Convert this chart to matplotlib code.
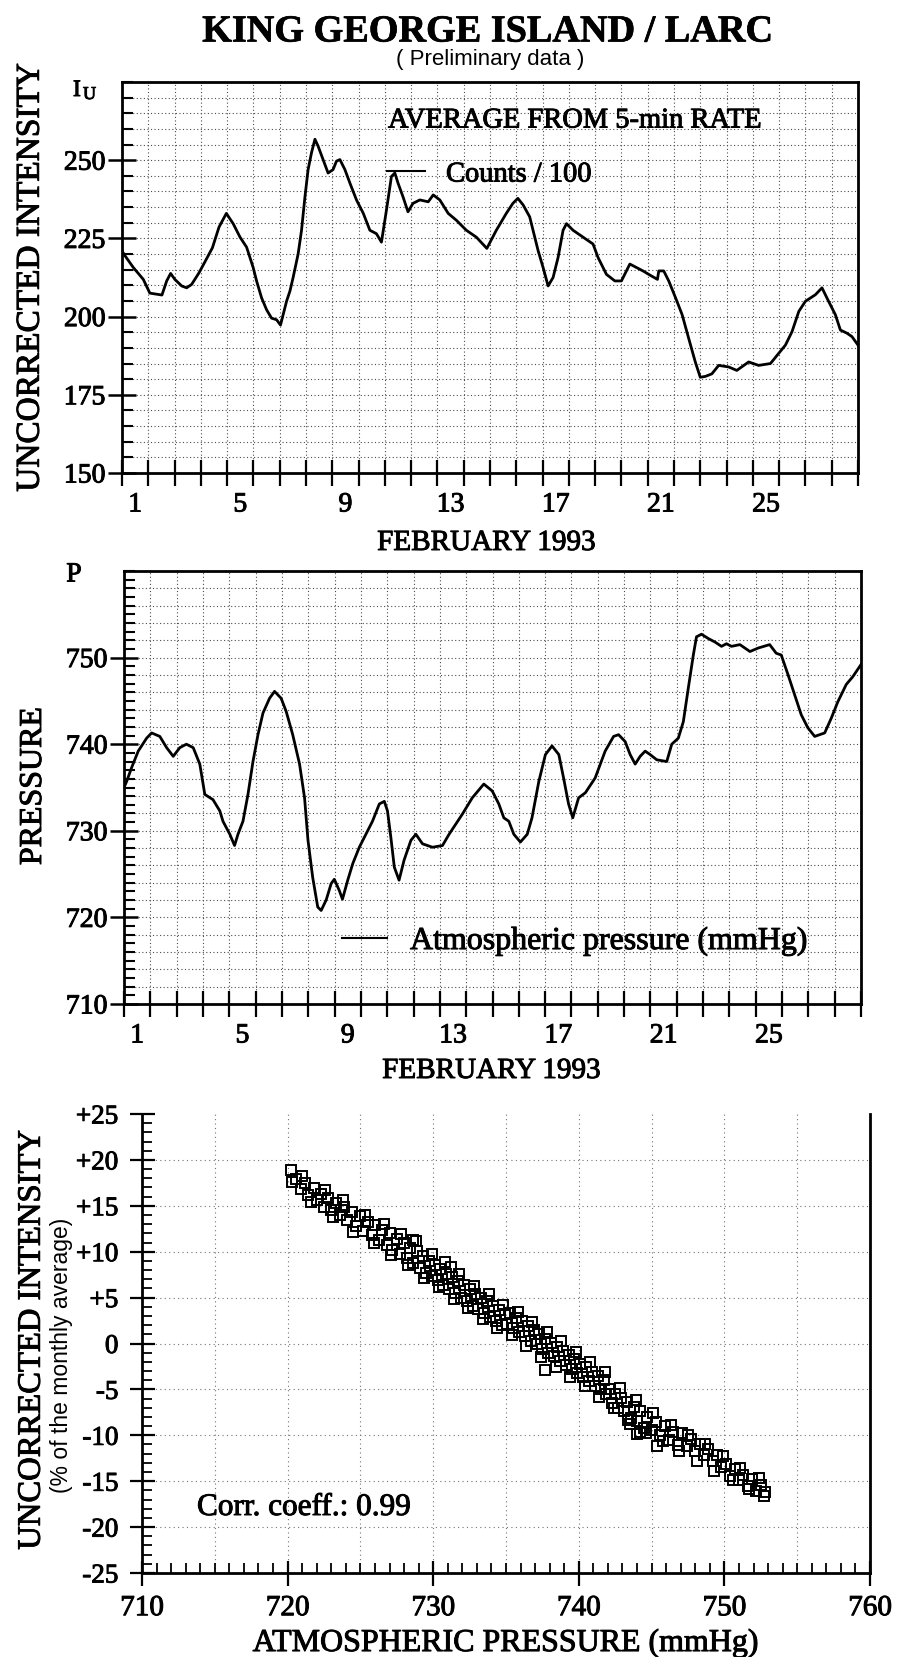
import matplotlib
matplotlib.use("Agg")
import matplotlib.pyplot as plt
import matplotlib.patheffects as pe
from matplotlib.ticker import MultipleLocator, FixedLocator, FixedFormatter, NullFormatter
from matplotlib.lines import Line2D

# ---------------- data ----------------
day_labels = ["1", "5", "9", "13", "17", "21", "25"]

days_iu = [0.0, 0.11, 0.43, 0.81, 1.06, 1.52, 1.70, 1.85, 2.01, 2.27, 2.46, 2.65, 2.93, 3.18, 3.44, 3.69,
           3.97, 4.23, 4.49, 4.74, 4.99, 5.12, 5.31, 5.50, 5.69, 5.88, 6.03, 6.13, 6.26, 6.39, 6.51, 6.70,
           6.83, 6.96, 7.08, 7.21, 7.34, 7.46, 7.65, 7.84, 8.03, 8.16, 8.29, 8.48, 8.67, 8.92, 9.18, 9.43,
           9.68, 9.87, 10.06, 10.25, 10.38, 10.50, 10.69, 10.88, 11.07, 11.33, 11.65, 11.84, 12.09, 12.41,
           12.72, 13.10, 13.48, 13.88, 14.24, 14.62, 14.87, 15.06, 15.26, 15.51, 15.83, 16.02, 16.21, 16.40,
           16.59, 16.78, 16.91, 17.16, 17.54, 17.92, 18.11, 18.43, 18.75, 19.00, 19.32, 19.57, 19.82, 20.14,
           20.37, 20.42, 20.61, 20.80, 21.06, 21.31, 21.56, 21.81, 22.00, 22.20, 22.44, 22.70, 23.08, 23.39,
           23.84, 24.22, 24.67, 24.92, 25.24, 25.49, 25.75, 26.00, 26.38, 26.63, 26.88, 27.14, 27.33, 27.58,
           27.77, 28.00]
iu_counts = [221.0, 219.5, 215.7, 211.9, 207.5, 206.9, 211.4, 213.8, 211.9, 209.8, 209.2, 210.3, 214.0, 217.9,
             222.0, 228.6, 233.0, 229.7, 225.4, 222.2, 215.7, 211.4, 206.0, 202.2, 199.5, 199.0, 197.3, 200.6,
             204.9, 208.2, 212.5, 220.0, 227.6, 238.3, 247.0, 252.4, 256.7, 254.5, 250.2, 245.9, 247.0, 249.7,
             250.2, 247.0, 242.7, 237.3, 233.0, 227.6, 226.5, 223.8, 234.0, 244.8, 245.9, 242.7, 238.3, 233.5,
             236.2, 237.3, 236.7, 238.9, 237.3, 233.0, 230.8, 227.6, 225.4, 221.8, 227.6, 233.0, 236.2, 237.8,
             235.7, 231.9, 221.1, 215.7, 209.8, 212.5, 218.9, 227.6, 229.7, 227.6, 225.4, 223.2, 218.9, 213.5,
             211.4, 211.4, 216.8, 215.7, 214.6, 213.0, 211.9, 214.6, 214.6, 211.4, 206.0, 200.6, 193.0, 185.5,
             180.6, 180.9, 181.7, 184.4, 183.9, 182.8, 185.5, 184.4, 185.0, 187.6, 190.9, 195.2, 201.7, 204.9,
             207.0, 209.2, 204.9, 200.6, 195.7, 194.7, 193.6, 190.9]

days_p = [0.0, 0.10, 0.29, 0.54, 0.86, 1.05, 1.36, 1.62, 1.87, 2.12, 2.37, 2.63, 2.88, 3.07, 3.38, 3.64, 3.76,
          4.02, 4.20, 4.33, 4.52, 4.71, 4.90, 5.09, 5.28, 5.53, 5.72, 5.97, 6.16, 6.41, 6.67, 6.86, 6.99, 7.17,
          7.36, 7.49, 7.68, 7.87, 7.99, 8.18, 8.30, 8.50, 8.69, 8.94, 9.19, 9.44, 9.70, 9.89, 10.01, 10.14,
          10.27, 10.45, 10.64, 10.90, 11.09, 11.34, 11.72, 12.10, 12.35, 12.85, 13.23, 13.67, 13.99, 14.24,
          14.43, 14.62, 14.81, 15.06, 15.32, 15.50, 15.76, 16.01, 16.26, 16.52, 16.70, 16.89, 17.05, 17.27,
          17.53, 17.90, 18.28, 18.60, 18.79, 19.04, 19.23, 19.42, 19.61, 19.80, 19.99, 20.24, 20.62, 20.81,
          21.06, 21.25, 21.44, 21.63, 21.75, 21.94, 22.20, 22.45, 22.70, 22.89, 23.08, 23.40, 23.78, 24.09,
          24.53, 24.78, 24.97, 25.23, 25.48, 25.73, 25.98, 26.24, 26.62, 26.87, 27.12, 27.44, 27.69, 28.00]
pressure = [735.0, 735.7, 737.3, 739.2, 740.7, 741.3, 740.9, 739.6, 738.6, 739.6, 740.0, 739.6, 737.7, 734.2,
            733.6, 732.3, 731.1, 729.6, 728.3, 729.6, 731.1, 734.2, 738.0, 741.1, 743.6, 745.3, 746.1, 745.3,
            743.8, 741.1, 737.7, 733.8, 728.9, 724.6, 721.2, 720.8, 722.0, 723.9, 724.4, 723.1, 722.1, 724.3,
            726.2, 728.1, 729.6, 731.1, 733.1, 733.4, 732.3, 729.2, 725.8, 724.3, 726.6, 728.9, 729.6, 728.5,
            728.1, 728.3, 729.6, 731.9, 733.8, 735.4, 734.6, 733.1, 731.5, 731.1, 729.6, 728.7, 729.6, 731.5,
            735.7, 738.8, 739.8, 738.8, 736.1, 733.1, 731.5, 733.8, 734.4, 736.1, 739.2, 740.9, 741.1, 740.3,
            738.8, 737.7, 738.6, 739.2, 738.8, 738.2, 738.0, 740.0, 740.7, 742.6, 746.5, 750.3, 752.4, 752.7,
            752.2, 751.8, 751.3, 751.6, 751.3, 751.5, 750.7, 751.1, 751.5, 750.5, 750.3, 748.0, 745.7, 743.4,
            741.9, 740.9, 741.3, 743.0, 744.9, 746.9, 747.8, 749.2]

scatter_p = [720.2, 720.3, 720.6, 720.9, 721.2, 721.4, 721.8, 722.0, 722.3, 722.5,
             722.8, 723.0, 723.3, 723.6, 723.9, 724.1, 724.4, 724.7, 725.0, 725.2,
             725.5, 725.8, 726.0, 726.3, 726.5, 726.8, 727.0, 727.2, 727.5, 727.7,
             728.0, 728.2, 728.4, 728.6, 728.9, 729.1, 729.3, 729.5, 729.7, 729.9,
             730.1, 730.3, 730.5, 730.7, 730.9, 731.1, 731.3, 731.5, 731.7, 731.9,
             732.1, 732.3, 732.5, 732.7, 732.9, 733.1, 733.3, 733.5, 733.7, 733.9,
             734.1, 734.3, 734.5, 734.7, 734.9, 735.1, 735.3, 735.5, 735.7, 735.9,
             736.1, 736.3, 736.5, 736.7, 736.9, 737.1, 737.3, 737.5, 737.7, 737.9,
             738.1, 738.3, 738.5, 738.7, 738.9, 739.1, 739.3, 739.5, 739.7, 739.9,
             740.1, 740.3, 740.5, 740.7, 740.9, 741.1, 741.3, 741.5, 741.7, 741.9,
             742.1, 742.3, 742.5, 742.7, 742.9, 743.1, 743.3, 743.6, 743.8, 744.0,
             744.2, 744.5, 744.7, 745.0, 745.3, 745.6, 745.9, 746.2, 746.5, 746.8,
             747.1, 747.4, 747.7, 748.0, 748.3, 748.6, 748.9, 749.2, 749.5, 749.8,
             750.1, 750.4, 750.7, 751.0, 751.3, 751.6, 751.9, 752.2, 752.5, 752.8,
             737.7, 743.5, 744.2, 731.2, 728.6,
             721.0, 721.6, 722.6, 723.1, 723.8, 724.5, 725.3, 725.9, 726.6, 727.1,
             727.8, 728.3, 728.8, 729.4, 729.9, 730.4, 730.8, 731.4, 731.8, 732.4,
             732.8, 733.4, 733.8, 734.4, 734.8, 735.4, 735.8, 736.4, 736.8, 737.4,
             737.8, 738.4, 738.8, 739.4, 739.8, 740.4, 740.8, 741.4, 741.8, 742.4,
             742.8, 743.4, 743.9, 744.6, 745.1, 745.8, 746.3, 746.9, 747.5, 748.1,
             748.7, 749.3, 749.9, 750.6, 751.1, 751.7, 752.4, 752.7, 744.0, 745.4]
scatter_iu = [18.9, 17.6, 17.9, 16.8, 17.5, 16.2, 16.9, 15.6, 16.3, 14.9,
              15.8, 14.5, 15.3, 14.0, 14.9, 13.4, 14.3, 12.8, 13.9, 12.3,
              13.2, 11.8, 12.9, 11.3, 12.4, 10.7, 12.0, 10.2, 11.4, 9.8,
              10.9, 9.3, 10.4, 8.8, 10.1, 8.2, 9.5, 7.7, 9.0, 7.3,
              8.6, 6.9, 8.1, 6.4, 7.6, 5.9, 7.2, 5.5, 6.8, 5.0,
              6.4, 4.6, 5.9, 4.1, 5.4, 3.8, 5.0, 3.3, 4.6, 2.9,
              4.1, 2.4, 3.6, 2.0, 3.2, 2.1, 3.3, 1.7, 2.8, 1.2,
              2.4, 0.8, 1.9, 0.3, 1.5, -0.1, 1.0, -0.6, 0.5, -1.0,
              0.1, -1.4, -0.4, -1.9, -0.8, -2.3, -1.3, -2.8, -1.7, -3.2,
              -2.2, -3.7, -2.6, -4.1, -3.1, -4.6, -3.5, -5.0, -4.0, -5.5,
              -5.0, -6.5, -5.5, -7.0, -5.9, -7.4, -6.4, -8.1, -6.9, -8.4,
              -7.4, -9.2, -8.0, -9.4, -8.6, -10.0, -9.0, -10.5, -9.6, -11.1,
              -9.8, -11.2, -10.4, -11.7, -10.9, -12.2, -11.5, -12.8, -12.1, -13.4,
              -13.1, -14.4, -13.7, -14.9, -14.3, -15.5, -14.8, -16.1, -15.4, -16.2,
              -2.9, -8.8, -9.6, 8.3, 11.3,
              18.2, 15.4, 16.7, 13.8, 15.6, 12.2, 14.0, 10.9, 13.0, 9.6,
              11.9, 8.6, 11.2, 7.1, 9.8, 6.2, 8.9, 4.9, 7.6, 3.9,
              6.3, 2.7, 5.4, 1.7, 4.2, 0.9, 3.4, -0.3, 2.3, -1.5,
              1.2, -2.6, 0.3, -3.6, -0.9, -4.6, -2.0, -5.8, -3.1, -7.0,
              -4.8, -8.3, -6.2, -9.8, -7.6, -10.6, -8.9, -11.7, -10.0, -12.8,
              -11.0, -13.9, -12.3, -14.9, -13.6, -15.9, -14.7, -16.6, -9.9, -11.2]

iu_major = [150, 175, 200, 225, 250]
p_major = [710, 720, 730, 740, 750]
sc_x_major = [710, 720, 730, 740, 750, 760]
sc_y_major = [25, 20, 15, 10, 5, 0, -5, -10, -15, -20, -25]
sc_y_labels = ["+25", "+20", "+15", "+10", "+5", "0", "-5", "-10", "-15", "-20", "-25"]

# ---------------- figure ----------------
SERIF = ["Liberation Serif", "DejaVu Serif"]
SANS = ["Liberation Sans", "DejaVu Sans"]
plt.rcParams["font.family"] = SERIF

W, H = 901, 1657
fig = plt.figure(figsize=(W / 100, H / 100), dpi=100, facecolor="white")
HEAVY = [pe.withStroke(linewidth=0.7, foreground="black")]


def rect(l, t, r, b):
    return [l / W, 1 - b / H, (r - l) / W, (b - t) / H]


def fx(x):
    return x / W


def fy(y):
    return 1 - y / H


def heavy_ticklabels(ax):
    for lab in ax.get_xticklabels(which="both") + ax.get_yticklabels(which="both"):
        lab.set_path_effects(HEAVY)


GRID = dict(color="0.3", linewidth=0.8, linestyle=(0, (1, 2.2)), zorder=0)
GRID3 = dict(color="0.45", linewidth=0.8, linestyle=(0, (1, 3)), zorder=0)


def time_axes(r, ylo, yhi, ymajor, yminor, ygrid_step):
    ax = fig.add_axes(r)
    ax.set_xlim(0, 28)
    ax.set_ylim(ylo, yhi)
    for s in ax.spines.values():
        s.set_linewidth(2.0)
    ax.xaxis.set_major_locator(MultipleLocator(1))
    ax.xaxis.set_major_formatter(NullFormatter())
    ax.xaxis.set_minor_locator(FixedLocator([int(s) - 0.5 for s in day_labels]))
    ax.xaxis.set_minor_formatter(FixedFormatter(day_labels))
    ax.tick_params(axis="x", which="major", direction="inout", length=19, width=1.6)
    ax.tick_params(axis="x", which="minor", length=0, pad=14, labelsize=20)
    ax.yaxis.set_major_locator(FixedLocator(ymajor))
    ax.yaxis.set_minor_locator(MultipleLocator(yminor))
    ax.tick_params(axis="y", which="major", direction="inout", length=20, width=1.8, pad=2, labelsize=20)
    ax.tick_params(axis="y", which="minor", direction="in", length=8, width=1.5)
    for d in range(1, 28):
        ax.axvline(d, **GRID)
    v = ylo + ygrid_step
    while v < yhi - 1e-9:
        ax.axhline(v, **GRID)
        v += ygrid_step
    heavy_ticklabels(ax)
    return ax


# --- top panel: intensity ---
ax1 = time_axes(rect(122, 82, 858, 473), 150, 275, iu_major, 5, 5)
ax1.plot(days_iu, iu_counts, color="black", lw=2.0, zorder=3)

# --- middle panel: pressure ---
ax2 = time_axes(rect(124, 571, 861, 1004), 710, 760, p_major, 1, 2)
ax2.plot(days_p, pressure, color="black", lw=2.0, zorder=3)

# --- bottom panel: scatter ---
ax3 = fig.add_axes(rect(142, 1114, 870, 1573))
ax3.set_xlim(710, 760)
ax3.set_ylim(-25, 25)
ax3.spines["top"].set_visible(False)
for k in ("left", "bottom", "right"):
    ax3.spines[k].set_linewidth(2.0)
ax3.xaxis.set_major_locator(FixedLocator(sc_x_major))
ax3.xaxis.set_major_formatter(FixedFormatter([str(v) for v in sc_x_major]))
ax3.xaxis.set_minor_locator(MultipleLocator(1))
ax3.yaxis.set_major_locator(FixedLocator(sc_y_major))
ax3.yaxis.set_major_formatter(FixedFormatter(sc_y_labels))
ax3.yaxis.set_minor_locator(MultipleLocator(1))
ax3.tick_params(axis="both", which="major", direction="inout", length=18, width=1.6)
ax3.tick_params(axis="x", which="major", pad=7, labelsize=21)
ax3.tick_params(axis="y", which="major", pad=8, labelsize=19.5)
ax3.tick_params(axis="both", which="minor", direction="in", length=7, width=1.3)
for v in range(715, 760, 5):
    ax3.axvline(v, **GRID3)
for v in range(-20, 25, 5):
    ax3.axhline(v, **GRID3)
ax3.plot(scatter_p, scatter_iu, ls="none", marker="s", ms=7.2, mfc="none", mec="black", mew=1.4, zorder=3)
heavy_ticklabels(ax3)

# ---------------- texts ----------------
fig.text(fx(488), fy(28), "KING GEORGE ISLAND / LARC", ha="center", va="center_baseline",
         fontsize=27.5, fontweight="bold", path_effects=[pe.withStroke(linewidth=0.5, foreground="black")])
fig.text(fx(490), fy(60), "( Preliminary data )", ha="center", va="center", fontsize=16, family=SANS)

fig.text(fx(73), fy(96), "I", ha="left", va="baseline", fontsize=17, path_effects=HEAVY)
fig.text(fx(83), fy(99), "U", ha="left", va="baseline", fontsize=13, path_effects=HEAVY)
fig.text(fx(27), fy(277), "UNCORRECTED INTENSITY", rotation=90, rotation_mode="anchor",
         ha="center", va="center_baseline", fontsize=24, path_effects=HEAVY)
fig.text(fx(388), fy(118), "AVERAGE FROM 5-min RATE", ha="left", va="center_baseline", fontsize=20.5,
         path_effects=HEAVY)
fig.add_artist(Line2D([fx(387), fx(425)], [fy(171), fy(171)], color="black", lw=1.5,
                      transform=fig.transFigure))
fig.text(fx(446), fy(172), "Counts / 100", ha="left", va="center_baseline", fontsize=20.5, path_effects=HEAVY)
fig.text(fx(486), fy(540), "FEBRUARY 1993", ha="center", va="center_baseline", fontsize=21, path_effects=HEAVY)

fig.text(fx(74), fy(572), "P", ha="center", va="center_baseline", fontsize=20, path_effects=HEAVY)
fig.text(fx(30), fy(786), "PRESSURE", rotation=90, rotation_mode="anchor",
         ha="center", va="center_baseline", fontsize=23, path_effects=HEAVY)
fig.add_artist(Line2D([fx(342), fx(387)], [fy(938), fy(938)], color="black", lw=1.5,
                      transform=fig.transFigure))
fig.text(fx(410), fy(938), "Atmospheric pressure (mmHg)", ha="left", va="center_baseline", fontsize=23,
         path_effects=HEAVY)
fig.text(fx(491), fy(1068), "FEBRUARY 1993", ha="center", va="center_baseline", fontsize=21, path_effects=HEAVY)

fig.text(fx(28), fy(1340), "UNCORRECTED INTENSITY", rotation=90, rotation_mode="anchor",
         ha="center", va="center_baseline", fontsize=23.5, path_effects=HEAVY)
fig.text(fx(59), fy(1355), "(% of the monthly average)", rotation=90, rotation_mode="anchor",
         ha="center", va="center_baseline", fontsize=16.5, family=SANS)
fig.text(fx(197), fy(1504), "Corr. coeff.: 0.99", ha="left", va="center_baseline", fontsize=22.5,
         path_effects=HEAVY)
fig.text(fx(506), fy(1640), "ATMOSPHERIC PRESSURE (mmHg)", ha="center", va="center_baseline", fontsize=23,
         path_effects=HEAVY)

fig.savefig("out.png", dpi=100, facecolor="white")
